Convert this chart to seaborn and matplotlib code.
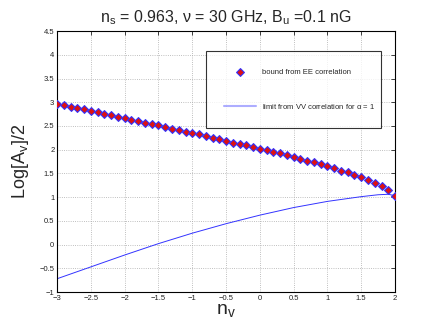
import numpy as np
import matplotlib
import matplotlib.pyplot as plt
import pandas as pd
import seaborn as sns

# EE-correlation bound (diamonds)
nv_points = [-3.0, -2.9, -2.8, -2.7, -2.6, -2.5, -2.4, -2.3, -2.2, -2.1,
             -2.0, -1.9, -1.8, -1.7, -1.6, -1.5, -1.4, -1.3, -1.2, -1.1,
             -1.0, -0.9, -0.8, -0.7, -0.6, -0.5, -0.4, -0.3, -0.2, -0.1,
             0.0, 0.1, 0.2, 0.3, 0.4, 0.5, 0.6, 0.7, 0.8, 0.9,
             1.0, 1.1, 1.2, 1.3, 1.4, 1.5, 1.6, 1.7, 1.8, 1.9, 2.0]
ee_bound = [2.97, 2.94, 2.91, 2.88, 2.85, 2.82, 2.79, 2.76, 2.73, 2.69,
            2.66, 2.63, 2.60, 2.57, 2.54, 2.51, 2.48, 2.44, 2.41, 2.38,
            2.35, 2.32, 2.29, 2.25, 2.22, 2.19, 2.15, 2.12, 2.09, 2.06,
            2.02, 1.99, 1.95, 1.92, 1.88, 1.85, 1.81, 1.77, 1.73, 1.69,
            1.65, 1.61, 1.56, 1.52, 1.47, 1.42, 1.36, 1.30, 1.23, 1.15, 1.03]

# VV-correlation limit (line)
nv_line = [-3.0, -2.5, -2.0, -1.5, -1.0, -0.5, 0.0, 0.5, 1.0, 1.5, 1.75, 1.9, 2.0]
vv_limit = [-0.72, -0.47, -0.22, 0.02, 0.24, 0.44, 0.62, 0.78, 0.91, 1.01, 1.05, 1.06, 1.03]

x_ticks = [-3, -2.5, -2, -1.5, -1, -0.5, 0, 0.5, 1, 1.5, 2]
x_ticklabels = ['\u22123', '\u22122.5', '\u22122', '\u22121.5', '\u22121', '\u22120.5', '0', '0.5', '1', '1.5', '2']
y_ticks = [-1, -0.5, 0, 0.5, 1, 1.5, 2, 2.5, 3, 3.5, 4, 4.5]
y_ticklabels = ['\u22121', '\u22120.5', '0', '0.5', '1', '1.5', '2', '2.5', '3', '3.5', '4', '4.5']

df_pts = pd.DataFrame({'nv': nv_points, 'A': ee_bound})
df_line = pd.DataFrame({'nv': nv_line, 'A': vv_limit})

sns.set_theme(style='white')
plt.rcParams['font.family'] = ['Liberation Sans', 'DejaVu Sans']
plt.rcParams['mathtext.fontset'] = 'custom'
plt.rcParams['mathtext.rm'] = 'Liberation Sans'
plt.rcParams['mathtext.it'] = 'Liberation Sans'

fig = plt.figure(figsize=(4.36, 3.27), dpi=100)
ax = fig.add_axes([0.131, 0.107, 0.775, 0.798])

sns.lineplot(data=df_line, x='nv', y='A', ax=ax, color='#3333ff', linewidth=0.7,
             label=r'limit from VV correlation for $\alpha$ = 1')
sns.scatterplot(data=df_pts, x='nv', y='A', ax=ax, marker='D', s=16,
                color='#dd1111', edgecolor='#3333ff', linewidth=0.8,
                label='bound from EE correlation', zorder=3)

ax.set_xlim(-3, 2)
ax.set_ylim(-1, 4.5)
ax.set_xticks(x_ticks)
ax.set_xticklabels(x_ticklabels)
ax.set_yticks(y_ticks)
ax.set_yticklabels(y_ticklabels)
ax.tick_params(direction='in', length=3, width=0.6, labelsize=5.5, colors='#222222',
               top=True, right=True, pad=2)
ax.grid(True, linestyle=':', color='#aaaaaa', linewidth=0.6)
for sp in ax.spines.values():
    sp.set_color('black')
    sp.set_linewidth(0.8)

ax.set_xlabel(r'$\mathrm{n_v}$', fontsize=14, labelpad=0)
ax.set_ylabel(r'Log[$\mathrm{A_v}$]/2', fontsize=13, labelpad=6)
ax.set_title(r'$\mathrm{n_s}$ = 0.963, $\nu$ = 30 GHz, $\mathrm{B_u}$ =0.1 nG', fontsize=11.5, pad=6)

handles, labels = ax.get_legend_handles_labels()
order = [1, 0]
leg = ax.legend([handles[i] for i in order], [labels[i] for i in order],
                loc='upper left', bbox_to_anchor=(0.43, 0.628, 0.54, 0.311),
                mode='expand', fontsize=5.5, labelspacing=3.4, borderpad=2.3,
                handlelength=4.2, frameon=True, fancybox=False)
leg.get_frame().set_edgecolor('black')
leg.get_frame().set_linewidth(0.8)
leg.legend_handles[1].set_alpha(0.4)
leg.legend_handles[1].set_linewidth(1.5)

plt.savefig('out.png', dpi=100)
